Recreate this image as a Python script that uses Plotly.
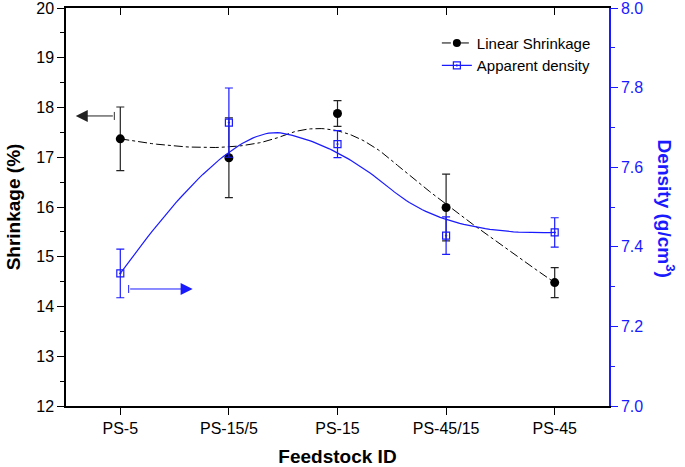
import plotly.graph_objects as go

# ---- data ----
categories = ["PS-5", "PS-15/5", "PS-15", "PS-45/15", "PS-45"]
shrinkage = [17.37, 16.99, 17.88, 15.99, 14.48]
shrinkage_err = [0.64, 0.80, 0.26, 0.67, 0.30]
density = [7.333, 7.712, 7.658, 7.428, 7.436]
density_err = [0.061, 0.087, 0.034, 0.047, 0.037]

FONT = "Liberation Sans, Arial, sans-serif"
BLUE = "#1a1aff"
xs = list(range(len(categories)))


def bspline2(px, py, n=40):
    """Clamped quadratic B-spline using the data points as control points."""
    P = list(zip(px, py))
    m = len(P)
    outx, outy = [], []
    for i in range(m - 2):
        a = P[0] if i == 0 else ((P[i][0] + P[i + 1][0]) / 2, (P[i][1] + P[i + 1][1]) / 2)
        c = P[i + 1]
        b = P[-1] if i == m - 3 else ((P[i + 1][0] + P[i + 2][0]) / 2, (P[i + 1][1] + P[i + 2][1]) / 2)
        for k in range(n + 1):
            if i > 0 and k == 0:
                continue
            s = k / n
            w0, w1, w2 = (1 - s) ** 2, 2 * s * (1 - s), s ** 2
            outx.append(w0 * a[0] + w1 * c[0] + w2 * b[0])
            outy.append(w0 * a[1] + w1 * c[1] + w2 * b[1])
    return outx, outy


fig = go.Figure()

cx, cy = bspline2(xs, shrinkage)
fig.add_trace(go.Scatter(x=cx, y=cy, mode="lines", showlegend=False,
                         line=dict(color="black", width=1, dash="dashdot"), hoverinfo="skip"))
dx, dy = bspline2(xs, density)
fig.add_trace(go.Scatter(x=dx, y=dy, mode="lines", showlegend=False, yaxis="y2",
                         line=dict(color=BLUE, width=1.2), hoverinfo="skip"))

fig.add_trace(go.Scatter(x=xs, y=shrinkage, mode="markers", showlegend=False,
                         marker=dict(symbol="circle", size=9, color="black"),
                         error_y=dict(type="data", array=shrinkage_err, color="#222222",
                                      thickness=1.2, width=4)))
fig.add_trace(go.Scatter(x=xs, y=density, mode="markers", showlegend=False, yaxis="y2",
                         marker=dict(symbol="square-open-dot", size=7, color=BLUE,
                                     line=dict(width=1.2, color=BLUE)),
                         error_y=dict(type="data", array=density_err, color=BLUE,
                                      thickness=1.2, width=4)))

# legend entries
fig.add_trace(go.Scatter(x=[None], y=[None], mode="lines+markers", name="Linear Shrinkage",
                         line=dict(color="black", width=1, dash="dashdot"),
                         marker=dict(symbol="circle", size=8, color="black")))
fig.add_trace(go.Scatter(x=[None], y=[None], mode="lines+markers", name="Apparent density",
                         xaxis="x2", line=dict(color=BLUE, width=1.2),
                         marker=dict(symbol="square-open-dot", size=7, color=BLUE,
                                     line=dict(width=1.2, color=BLUE))))

# arrows indicating which axis each series belongs to
ARROW_L = dict(tail=-0.055, head=-0.41, y=17.83)
ARROW_R = dict(tail=0.077, head=0.666, y=7.294)
fig.add_annotation(x=ARROW_L["head"], y=ARROW_L["y"], ax=ARROW_L["tail"], ay=ARROW_L["y"],
                   xref="x", yref="y", axref="x", ayref="y", text="", showarrow=True,
                   arrowhead=2, arrowsize=2.4, arrowwidth=1, arrowcolor="#222222", standoff=0)
fig.add_annotation(x=ARROW_R["head"], y=ARROW_R["y"], ax=ARROW_R["tail"], ay=ARROW_R["y"],
                   xref="x", yref="y2", axref="x", ayref="y2", text="", showarrow=True,
                   arrowhead=2, arrowsize=2.4, arrowwidth=1, arrowcolor=BLUE, standoff=0)
fig.add_shape(type="line", xref="x", yref="y", x0=ARROW_L["tail"], x1=ARROW_L["tail"],
              ysizemode="pixel", yanchor=ARROW_L["y"], y0=-4, y1=4,
              line=dict(color="#333333", width=1))
fig.add_shape(type="line", xref="x", yref="y2", x0=ARROW_R["tail"], x1=ARROW_R["tail"],
              ysizemode="pixel", yanchor=ARROW_R["y"], y0=-4, y1=4,
              line=dict(color=BLUE, width=1))

fig.add_annotation(text="<b>Density (g/cm<sup>3</sup>)</b>", xref="paper", yref="paper",
                   x=1.13, y=0.497, textangle=90, showarrow=False,
                   font=dict(family=FONT, size=19, color=BLUE))

fig.update_layout(
    width=685, height=467,
    margin=dict(l=66, r=76, t=8, b=61, autoexpand=False),
    paper_bgcolor="white", plot_bgcolor="white",
    font=dict(family=FONT, size=16, color="black"),
    showlegend=True,
    legend=dict(x=0.683, y=0.953, xanchor="left", yanchor="top", bgcolor="rgba(0,0,0,0)",
                font=dict(family=FONT, size=15), tracegroupgap=0, itemwidth=30),
    xaxis=dict(range=[-0.5, 4.5], tickmode="array", tickvals=xs, ticktext=categories,
               showline=True, linecolor="black", linewidth=1.5, ticks="outside", ticklen=7,
               tickcolor="black", showgrid=False, zeroline=False,
               title=dict(text="<b>Feedstock ID</b>", font=dict(family=FONT, size=19), standoff=15),
               tickfont=dict(family=FONT, size=16)),
    xaxis2=dict(range=[-0.5, 4.5], overlaying="x", side="top", tickmode="array", tickvals=xs,
                showticklabels=False, showline=True, linecolor="black", linewidth=1.5,
                ticks="inside", ticklen=7, tickcolor="black", showgrid=False, zeroline=False),
    yaxis=dict(range=[12, 20], dtick=1, showline=True, linecolor="black", linewidth=1.5,
               ticks="outside", ticklen=7, tickcolor="black", showgrid=False, zeroline=False,
               ticklabeloverflow="allow",
               minor=dict(dtick=0.5, ticks="outside", ticklen=4, tickcolor="black", showgrid=False),
               title=dict(text="<b>Shrinkage (%)</b>", font=dict(family=FONT, size=19), standoff=11),
               tickfont=dict(family=FONT, size=16)),
    yaxis2=dict(range=[7.0, 8.0], dtick=0.2, tickformat=".1f", overlaying="y", side="right",
                showline=True, linecolor=BLUE, linewidth=1.5, ticks="outside", ticklen=7,
                tickcolor=BLUE, showgrid=False, zeroline=False, ticklabeloverflow="allow",
                minor=dict(dtick=0.1, ticks="outside", ticklen=4, tickcolor=BLUE, showgrid=False),
                tickfont=dict(family=FONT, size=16, color=BLUE)),
)

fig.write_html("out.html", config={"displayModeBar": False},
               post_script="document.body.style.margin='0';")
